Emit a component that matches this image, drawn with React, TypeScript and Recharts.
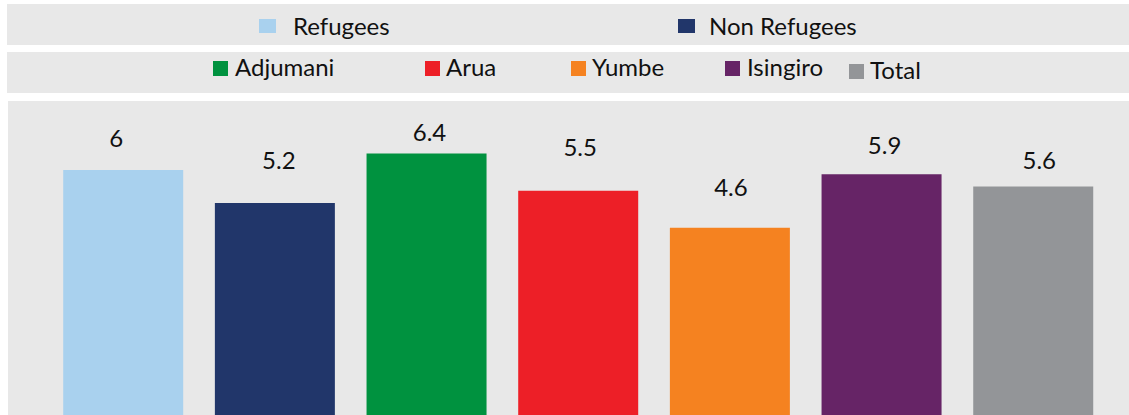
import { BarChart, Bar, XAxis, YAxis, Cell, LabelList } from "recharts";

const categories = [
  "Refugees",
  "Non Refugees",
  "Adjumani",
  "Arua",
  "Yumbe",
  "Isingiro",
  "Total",
];
const values = [6, 5.2, 6.4, 5.5, 4.6, 5.9, 5.6];
const colors = [
  "#a9d1ee",
  "#21366a",
  "#00923f",
  "#ed1f27",
  "#f58220",
  "#662466",
  "#939598",
];

// legend layout: row, square x, text x (px)
const legendLayout = [
  { row: 0, sq: 259, tx: 293 },
  { row: 0, sq: 678, tx: 709 },
  { row: 1, sq: 213, tx: 235 },
  { row: 1, sq: 425, tx: 446 },
  { row: 1, sq: 571, tx: 592 },
  { row: 1, sq: 725, tx: 747 },
  { row: 1, sq: 849, tx: 870 },
];
// data labels were hand-placed in the original: [dx, gap above bar]
const labelShift = [
  [-7, 23],
  [4, 34],
  [3, 13],
  [2, 35],
  [1, 32],
  [3, 20],
  [6, 18],
];

const data = categories.map((name, i) => ({ name, value: values[i] }));

const font = "Lato, 'Open Sans', sans-serif";
const bg = "#e8e8e8";

function ValueLabel(props: any) {
  const { x, y, width, value } = props;
  let i = props.index;
  if (typeof i !== "number") i = values.indexOf(Number(value));
  const [dx, gap] = labelShift[i] || [0, 20];
  return (
    <text
      x={Number(x) + Number(width) / 2 + dx}
      y={Number(y) - gap}
      textAnchor="middle"
      fill="#111"
      fontSize={24}
      fontFamily={font}
    >
      {value}
    </text>
  );
}

export default function App() {
  return (
    <div
      style={{
        position: "fixed",
        left: 0,
        top: 0,
        width: 1129,
        height: 415,
        overflow: "hidden",
        background: "#fff",
        fontFamily: font,
      }}
    >
      {[0, 1].map((row) => (
        <div
          key={row}
          style={{
            position: "absolute",
            left: 7,
            top: row === 0 ? 4 : 52,
            width: 1122,
            height: 41,
            background: bg,
          }}
        />
      ))}
      {categories.map((name, i) => {
        const l = legendLayout[i];
        const top = l.row === 0 ? 4 : 52;
        const lift = name === "Total" ? 3 : 0;
        return (
          <div key={name}>
            <div
              style={{
                position: "absolute",
                left: l.sq,
                top: top + (l.row === 0 ? 15 : 9) + lift,
                width: l.row === 0 ? 17 : 15,
                height: l.row === 0 ? 14 : 15,
                background: colors[i],
              }}
            />
            <div
              style={{
                position: "absolute",
                left: l.tx,
                top: top + (l.row === 0 ? 8 : 1) + lift,
                fontSize: 24,
                lineHeight: "28px",
                color: "#111",
                whiteSpace: "nowrap",
              }}
            >
              {name}
            </div>
          </div>
        );
      })}
      <div
        style={{
          position: "absolute",
          left: 8,
          top: 101,
          width: 1121,
          height: 330,
          background: bg,
        }}
      >
        <BarChart
          width={1121}
          height={330}
          data={data}
          margin={{ top: 27.75, right: 20.1, left: 39.2, bottom: 13.5 }}
        >
          <XAxis dataKey="name" hide />
          <YAxis domain={[0, 7]} hide />
          <Bar dataKey="value" barSize={120} isAnimationActive={false}>
            {data.map((d, i) => (
              <Cell key={d.name} fill={colors[i]} />
            ))}
            <LabelList dataKey="value" content={ValueLabel} />
          </Bar>
        </BarChart>
      </div>
    </div>
  );
}
